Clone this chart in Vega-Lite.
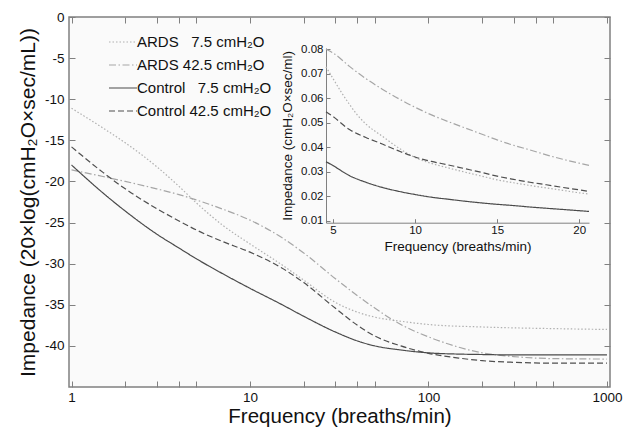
{
  "$schema": "https://vega.github.io/schema/vega-lite/v6.json",
  "width": 541,
  "height": 370,
  "autosize": {"type": "none"},
  "padding": {"left": 69, "top": 17, "right": 14, "bottom": 40},
  "background": "white",
  "config": {
    "view": {"fill": "#fafafa", "stroke": "#808080", "strokeWidth": 1.5},
    "font": "Liberation Sans",
    "axis": {"labelFont": "Liberation Sans", "titleFont": "Liberation Sans", "labelColor": "#111111", "titleColor": "#111111", "titleFontWeight": "normal", "grid": false, "tickColor": "#808080", "domainColor": "#808080", "labelFlush": false}
  },
  "datasets": {
    "main": [
      {"series": "ARDS\u00a0\u00a0\u00a07.5 cmH\u2082O", "f": 1, "v": -11.1},
      {"series": "ARDS\u00a0\u00a0\u00a07.5 cmH\u2082O", "f": 1.5, "v": -13.5},
      {"series": "ARDS\u00a0\u00a0\u00a07.5 cmH\u2082O", "f": 2, "v": -15.3},
      {"series": "ARDS\u00a0\u00a0\u00a07.5 cmH\u2082O", "f": 3, "v": -18.2},
      {"series": "ARDS\u00a0\u00a0\u00a07.5 cmH\u2082O", "f": 4, "v": -20.6},
      {"series": "ARDS\u00a0\u00a0\u00a07.5 cmH\u2082O", "f": 5, "v": -22.6},
      {"series": "ARDS\u00a0\u00a0\u00a07.5 cmH\u2082O", "f": 7, "v": -25.3},
      {"series": "ARDS\u00a0\u00a0\u00a07.5 cmH\u2082O", "f": 10, "v": -27.6},
      {"series": "ARDS\u00a0\u00a0\u00a07.5 cmH\u2082O", "f": 15, "v": -30.1},
      {"series": "ARDS\u00a0\u00a0\u00a07.5 cmH\u2082O", "f": 20, "v": -32.0},
      {"series": "ARDS\u00a0\u00a0\u00a07.5 cmH\u2082O", "f": 30, "v": -34.7},
      {"series": "ARDS\u00a0\u00a0\u00a07.5 cmH\u2082O", "f": 40, "v": -35.9},
      {"series": "ARDS\u00a0\u00a0\u00a07.5 cmH\u2082O", "f": 50, "v": -36.5},
      {"series": "ARDS\u00a0\u00a0\u00a07.5 cmH\u2082O", "f": 70, "v": -37.0},
      {"series": "ARDS\u00a0\u00a0\u00a07.5 cmH\u2082O", "f": 100, "v": -37.4},
      {"series": "ARDS\u00a0\u00a0\u00a07.5 cmH\u2082O", "f": 200, "v": -37.7},
      {"series": "ARDS\u00a0\u00a0\u00a07.5 cmH\u2082O", "f": 500, "v": -37.9},
      {"series": "ARDS\u00a0\u00a0\u00a07.5 cmH\u2082O", "f": 1000, "v": -38.0},

      {"series": "ARDS 42.5 cmH\u2082O", "f": 1, "v": -18.6},
      {"series": "ARDS 42.5 cmH\u2082O", "f": 1.5, "v": -19.4},
      {"series": "ARDS 42.5 cmH\u2082O", "f": 2, "v": -20.0},
      {"series": "ARDS 42.5 cmH\u2082O", "f": 3, "v": -20.9},
      {"series": "ARDS 42.5 cmH\u2082O", "f": 4, "v": -21.6},
      {"series": "ARDS 42.5 cmH\u2082O", "f": 5, "v": -22.25},
      {"series": "ARDS 42.5 cmH\u2082O", "f": 7, "v": -23.35},
      {"series": "ARDS 42.5 cmH\u2082O", "f": 10, "v": -24.7},
      {"series": "ARDS 42.5 cmH\u2082O", "f": 15, "v": -26.8},
      {"series": "ARDS 42.5 cmH\u2082O", "f": 20, "v": -28.7},
      {"series": "ARDS 42.5 cmH\u2082O", "f": 30, "v": -31.8},
      {"series": "ARDS 42.5 cmH\u2082O", "f": 40, "v": -33.9},
      {"series": "ARDS 42.5 cmH\u2082O", "f": 50, "v": -35.4},
      {"series": "ARDS 42.5 cmH\u2082O", "f": 70, "v": -37.4},
      {"series": "ARDS 42.5 cmH\u2082O", "f": 100, "v": -38.9},
      {"series": "ARDS 42.5 cmH\u2082O", "f": 150, "v": -40.2},
      {"series": "ARDS 42.5 cmH\u2082O", "f": 200, "v": -40.85},
      {"series": "ARDS 42.5 cmH\u2082O", "f": 300, "v": -41.3},
      {"series": "ARDS 42.5 cmH\u2082O", "f": 500, "v": -41.55},
      {"series": "ARDS 42.5 cmH\u2082O", "f": 1000, "v": -41.6},

      {"series": "Control\u00a0\u00a0\u00a07.5 cmH\u2082O", "f": 1, "v": -18.0},
      {"series": "Control\u00a0\u00a0\u00a07.5 cmH\u2082O", "f": 1.5, "v": -21.4},
      {"series": "Control\u00a0\u00a0\u00a07.5 cmH\u2082O", "f": 2, "v": -23.6},
      {"series": "Control\u00a0\u00a0\u00a07.5 cmH\u2082O", "f": 3, "v": -26.4},
      {"series": "Control\u00a0\u00a0\u00a07.5 cmH\u2082O", "f": 4, "v": -28.1},
      {"series": "Control\u00a0\u00a0\u00a07.5 cmH\u2082O", "f": 5, "v": -29.4},
      {"series": "Control\u00a0\u00a0\u00a07.5 cmH\u2082O", "f": 7, "v": -31.2},
      {"series": "Control\u00a0\u00a0\u00a07.5 cmH\u2082O", "f": 10, "v": -33.0},
      {"series": "Control\u00a0\u00a0\u00a07.5 cmH\u2082O", "f": 15, "v": -34.95},
      {"series": "Control\u00a0\u00a0\u00a07.5 cmH\u2082O", "f": 20, "v": -36.4},
      {"series": "Control\u00a0\u00a0\u00a07.5 cmH\u2082O", "f": 30, "v": -38.3},
      {"series": "Control\u00a0\u00a0\u00a07.5 cmH\u2082O", "f": 40, "v": -39.4},
      {"series": "Control\u00a0\u00a0\u00a07.5 cmH\u2082O", "f": 50, "v": -40.0},
      {"series": "Control\u00a0\u00a0\u00a07.5 cmH\u2082O", "f": 70, "v": -40.5},
      {"series": "Control\u00a0\u00a0\u00a07.5 cmH\u2082O", "f": 100, "v": -40.85},
      {"series": "Control\u00a0\u00a0\u00a07.5 cmH\u2082O", "f": 150, "v": -41.0},
      {"series": "Control\u00a0\u00a0\u00a07.5 cmH\u2082O", "f": 200, "v": -41.05},
      {"series": "Control\u00a0\u00a0\u00a07.5 cmH\u2082O", "f": 300, "v": -41.1},
      {"series": "Control\u00a0\u00a0\u00a07.5 cmH\u2082O", "f": 1000, "v": -41.1},

      {"series": "Control 42.5 cmH\u2082O", "f": 1, "v": -15.8},
      {"series": "Control 42.5 cmH\u2082O", "f": 1.5, "v": -18.9},
      {"series": "Control 42.5 cmH\u2082O", "f": 2, "v": -20.9},
      {"series": "Control 42.5 cmH\u2082O", "f": 3, "v": -23.3},
      {"series": "Control 42.5 cmH\u2082O", "f": 4, "v": -24.8},
      {"series": "Control 42.5 cmH\u2082O", "f": 5, "v": -25.9},
      {"series": "Control 42.5 cmH\u2082O", "f": 7, "v": -27.3},
      {"series": "Control 42.5 cmH\u2082O", "f": 10, "v": -28.6},
      {"series": "Control 42.5 cmH\u2082O", "f": 15, "v": -30.5},
      {"series": "Control 42.5 cmH\u2082O", "f": 20, "v": -32.3},
      {"series": "Control 42.5 cmH\u2082O", "f": 30, "v": -35.4},
      {"series": "Control 42.5 cmH\u2082O", "f": 40, "v": -37.5},
      {"series": "Control 42.5 cmH\u2082O", "f": 50, "v": -38.8},
      {"series": "Control 42.5 cmH\u2082O", "f": 70, "v": -40.0},
      {"series": "Control 42.5 cmH\u2082O", "f": 100, "v": -40.9},
      {"series": "Control 42.5 cmH\u2082O", "f": 150, "v": -41.5},
      {"series": "Control 42.5 cmH\u2082O", "f": 200, "v": -41.8},
      {"series": "Control 42.5 cmH\u2082O", "f": 300, "v": -42.0},
      {"series": "Control 42.5 cmH\u2082O", "f": 500, "v": -42.1},
      {"series": "Control 42.5 cmH\u2082O", "f": 1000, "v": -42.1}
    ],
    "inset": [
      {"series": "ARDS\u00a0\u00a0\u00a07.5 cmH\u2082O", "f": 4.57, "v": 0.0728},
      {"series": "ARDS\u00a0\u00a0\u00a07.5 cmH\u2082O", "f": 5, "v": 0.0680},
      {"series": "ARDS\u00a0\u00a0\u00a07.5 cmH\u2082O", "f": 5.5, "v": 0.0625},
      {"series": "ARDS\u00a0\u00a0\u00a07.5 cmH\u2082O", "f": 6, "v": 0.0575},
      {"series": "ARDS\u00a0\u00a0\u00a07.5 cmH\u2082O", "f": 6.5, "v": 0.0530},
      {"series": "ARDS\u00a0\u00a0\u00a07.5 cmH\u2082O", "f": 7, "v": 0.0495},
      {"series": "ARDS\u00a0\u00a0\u00a07.5 cmH\u2082O", "f": 8, "v": 0.0445},
      {"series": "ARDS\u00a0\u00a0\u00a07.5 cmH\u2082O", "f": 9, "v": 0.0397},
      {"series": "ARDS\u00a0\u00a0\u00a07.5 cmH\u2082O", "f": 10, "v": 0.0358},
      {"series": "ARDS\u00a0\u00a0\u00a07.5 cmH\u2082O", "f": 11, "v": 0.0334},
      {"series": "ARDS\u00a0\u00a0\u00a07.5 cmH\u2082O", "f": 12, "v": 0.0316},
      {"series": "ARDS\u00a0\u00a0\u00a07.5 cmH\u2082O", "f": 13, "v": 0.0299},
      {"series": "ARDS\u00a0\u00a0\u00a07.5 cmH\u2082O", "f": 14, "v": 0.0283},
      {"series": "ARDS\u00a0\u00a0\u00a07.5 cmH\u2082O", "f": 15, "v": 0.0267},
      {"series": "ARDS\u00a0\u00a0\u00a07.5 cmH\u2082O", "f": 16, "v": 0.0255},
      {"series": "ARDS\u00a0\u00a0\u00a07.5 cmH\u2082O", "f": 17, "v": 0.0244},
      {"series": "ARDS\u00a0\u00a0\u00a07.5 cmH\u2082O", "f": 18, "v": 0.0234},
      {"series": "ARDS\u00a0\u00a0\u00a07.5 cmH\u2082O", "f": 19, "v": 0.0224},
      {"series": "ARDS\u00a0\u00a0\u00a07.5 cmH\u2082O", "f": 20, "v": 0.0214},
      {"series": "ARDS\u00a0\u00a0\u00a07.5 cmH\u2082O", "f": 20.6, "v": 0.0209},

      {"series": "ARDS 42.5 cmH\u2082O", "f": 4.57, "v": 0.0800},
      {"series": "ARDS 42.5 cmH\u2082O", "f": 5, "v": 0.0785},
      {"series": "ARDS 42.5 cmH\u2082O", "f": 6, "v": 0.0730},
      {"series": "ARDS 42.5 cmH\u2082O", "f": 7, "v": 0.0680},
      {"series": "ARDS 42.5 cmH\u2082O", "f": 8, "v": 0.0637},
      {"series": "ARDS 42.5 cmH\u2082O", "f": 9, "v": 0.0598},
      {"series": "ARDS 42.5 cmH\u2082O", "f": 10, "v": 0.0563},
      {"series": "ARDS 42.5 cmH\u2082O", "f": 11, "v": 0.0532},
      {"series": "ARDS 42.5 cmH\u2082O", "f": 12, "v": 0.0505},
      {"series": "ARDS 42.5 cmH\u2082O", "f": 13, "v": 0.0480},
      {"series": "ARDS 42.5 cmH\u2082O", "f": 14, "v": 0.0455},
      {"series": "ARDS 42.5 cmH\u2082O", "f": 15, "v": 0.0430},
      {"series": "ARDS 42.5 cmH\u2082O", "f": 16, "v": 0.0408},
      {"series": "ARDS 42.5 cmH\u2082O", "f": 17, "v": 0.0389},
      {"series": "ARDS 42.5 cmH\u2082O", "f": 18, "v": 0.0369},
      {"series": "ARDS 42.5 cmH\u2082O", "f": 19, "v": 0.0351},
      {"series": "ARDS 42.5 cmH\u2082O", "f": 20, "v": 0.0335},
      {"series": "ARDS 42.5 cmH\u2082O", "f": 20.6, "v": 0.0326},

      {"series": "Control\u00a0\u00a0\u00a07.5 cmH\u2082O", "f": 4.57, "v": 0.0341},
      {"series": "Control\u00a0\u00a0\u00a07.5 cmH\u2082O", "f": 5, "v": 0.0325},
      {"series": "Control\u00a0\u00a0\u00a07.5 cmH\u2082O", "f": 6, "v": 0.0284},
      {"series": "Control\u00a0\u00a0\u00a07.5 cmH\u2082O", "f": 7, "v": 0.0257},
      {"series": "Control\u00a0\u00a0\u00a07.5 cmH\u2082O", "f": 8, "v": 0.0236},
      {"series": "Control\u00a0\u00a0\u00a07.5 cmH\u2082O", "f": 9, "v": 0.0220},
      {"series": "Control\u00a0\u00a0\u00a07.5 cmH\u2082O", "f": 10, "v": 0.0207},
      {"series": "Control\u00a0\u00a0\u00a07.5 cmH\u2082O", "f": 11, "v": 0.0196},
      {"series": "Control\u00a0\u00a0\u00a07.5 cmH\u2082O", "f": 12, "v": 0.0188},
      {"series": "Control\u00a0\u00a0\u00a07.5 cmH\u2082O", "f": 13, "v": 0.0180},
      {"series": "Control\u00a0\u00a0\u00a07.5 cmH\u2082O", "f": 14, "v": 0.0173},
      {"series": "Control\u00a0\u00a0\u00a07.5 cmH\u2082O", "f": 15, "v": 0.0167},
      {"series": "Control\u00a0\u00a0\u00a07.5 cmH\u2082O", "f": 16, "v": 0.0162},
      {"series": "Control\u00a0\u00a0\u00a07.5 cmH\u2082O", "f": 17, "v": 0.0156},
      {"series": "Control\u00a0\u00a0\u00a07.5 cmH\u2082O", "f": 18, "v": 0.0151},
      {"series": "Control\u00a0\u00a0\u00a07.5 cmH\u2082O", "f": 19, "v": 0.0146},
      {"series": "Control\u00a0\u00a0\u00a07.5 cmH\u2082O", "f": 20, "v": 0.0141},
      {"series": "Control\u00a0\u00a0\u00a07.5 cmH\u2082O", "f": 20.6, "v": 0.0138},

      {"series": "Control 42.5 cmH\u2082O", "f": 4.57, "v": 0.0545},
      {"series": "Control 42.5 cmH\u2082O", "f": 5, "v": 0.0525},
      {"series": "Control 42.5 cmH\u2082O", "f": 6, "v": 0.0472},
      {"series": "Control 42.5 cmH\u2082O", "f": 7, "v": 0.0440},
      {"series": "Control 42.5 cmH\u2082O", "f": 8, "v": 0.0413},
      {"series": "Control 42.5 cmH\u2082O", "f": 9, "v": 0.0385},
      {"series": "Control 42.5 cmH\u2082O", "f": 10, "v": 0.0360},
      {"series": "Control 42.5 cmH\u2082O", "f": 11, "v": 0.0342},
      {"series": "Control 42.5 cmH\u2082O", "f": 12, "v": 0.0328},
      {"series": "Control 42.5 cmH\u2082O", "f": 13, "v": 0.0313},
      {"series": "Control 42.5 cmH\u2082O", "f": 14, "v": 0.0298},
      {"series": "Control 42.5 cmH\u2082O", "f": 15, "v": 0.0282},
      {"series": "Control 42.5 cmH\u2082O", "f": 16, "v": 0.0269},
      {"series": "Control 42.5 cmH\u2082O", "f": 17, "v": 0.0257},
      {"series": "Control 42.5 cmH\u2082O", "f": 18, "v": 0.0247},
      {"series": "Control 42.5 cmH\u2082O", "f": 19, "v": 0.0236},
      {"series": "Control 42.5 cmH\u2082O", "f": 20, "v": 0.0226},
      {"series": "Control 42.5 cmH\u2082O", "f": 20.6, "v": 0.0219}
    ]
  },
  "layer": [
    {
      "data": {"name": "main"},
      "mark": {"type": "line", "strokeWidth": 1.2, "clip": true, "interpolate": "monotone"},
      "encoding": {
        "x": {
          "field": "f", "type": "quantitative",
          "scale": {"type": "log", "domain": [0.968, 1040], "nice": false},
          "axis": {
            "orient": "bottom",
            "values": [1,2,3,4,5,10,20,30,40,50,100,200,300,400,500,1000],
            "labelExpr": "(datum.value == 1 || datum.value == 10 || datum.value == 100 || datum.value == 1000) ? format(datum.value, 'd') : ''",
            "tickSize": -6, "labelPadding": 9, "domain": false,
            "labelFontSize": 13.5, "title": "Frequency (breaths/min)", "titleFontSize": 20.5, "titlePadding": 3
          }
        },
        "y": {
          "field": "v", "type": "quantitative",
          "scale": {"domain": [-45, 0], "nice": false, "zero": false},
          "axis": {
            "orient": "left",
            "values": [-40,-35,-30,-25,-20,-15,-10,-5,0],
            "labelExpr": "replace(format(datum.value, 'd'), '\u2212', '-')",
            "tickSize": -6, "labelPadding": 11, "domain": false,
            "labelFontSize": 13.5, "title": "Impedance (20\u00d7log(cmH\u2082O\u00d7sec/mL))", "titleFontSize": 21, "titlePadding": 6
          }
        },
        "color": {
          "field": "series", "type": "nominal",
          "scale": {"domain": ["ARDS\u00a0\u00a0\u00a07.5 cmH\u2082O", "ARDS 42.5 cmH\u2082O", "Control\u00a0\u00a0\u00a07.5 cmH\u2082O", "Control 42.5 cmH\u2082O"], "range": ["#b0b0b0", "#a6a6a6", "#4a4a4a", "#4f4f4f"]},
          "legend": {"orient": "none", "legendX": 43, "legendY": 14, "title": null, "labelFontSize": 15, "labelFont": "Liberation Sans", "labelColor": "#111111", "symbolType": "M-1.4,0H1.4", "symbolSize": 400, "symbolStrokeWidth": 1.2, "rowPadding": 4, "labelOffset": 3, "padding": 0}
        },
        "strokeDash": {
          "field": "series", "type": "nominal",
          "scale": {"domain": ["ARDS\u00a0\u00a0\u00a07.5 cmH\u2082O", "ARDS 42.5 cmH\u2082O", "Control\u00a0\u00a0\u00a07.5 cmH\u2082O", "Control 42.5 cmH\u2082O"], "range": [[1.5, 2], [7, 2.5, 1.5, 2.5], [1, 0], [6, 3]]},
          "legend": {"orient": "none", "legendX": 43, "legendY": 14, "title": null, "labelFontSize": 15, "labelFont": "Liberation Sans", "labelColor": "#111111", "symbolType": "M-1.4,0H1.4", "symbolSize": 400, "symbolStrokeWidth": 1.2, "rowPadding": 4, "labelOffset": 3, "padding": 0}
        }
      }
    },
    {
      "data": {"name": "main"},
      "mark": {"type": "point", "opacity": 0},
      "encoding": {
        "x": {
          "field": "f", "type": "quantitative",
          "scale": {"type": "log", "domain": [0.968, 1040], "nice": false},
          "axis": {
            "orient": "top",
            "values": [1,2,3,4,5,10,20,30,40,50,100,200,300,400,500,1000],
            "labels": false, "tickSize": -6, "domain": false, "title": null
          }
        },
        "y": {
          "field": "v", "type": "quantitative",
          "scale": {"domain": [-45, 0], "nice": false, "zero": false},
          "axis": {
            "orient": "right",
            "values": [-40,-35,-30,-25,-20,-15,-10,-5,0],
            "labels": false, "tickSize": -6, "domain": false, "title": null
          }
        }
      }
    },
    {
      "data": {"name": "inset"},
      "mark": {"type": "line", "strokeWidth": 1.2, "interpolate": "monotone"},
      "encoding": {
        "x": {
          "field": "f", "type": "quantitative",
          "scale": {"domain": [4.57, 20.6], "range": [257, 520], "nice": false, "zero": false},
          "axis": {
            "orient": "bottom", "offset": -164.3,
            "values": [5, 10, 15, 20],
            "tickSize": -4, "labelPadding": 6, "domain": true,
            "labelFontSize": 11.5, "title": "Frequency (breaths/min)", "titleFontSize": 13.5, "titlePadding": 3
          }
        },
        "y": {
          "field": "v", "type": "quantitative",
          "scale": {"domain": [0.0092, 0.0805], "range": [205.7, 31], "nice": false, "zero": false},
          "axis": {
            "orient": "left", "offset": -257,
            "values": [0.01, 0.02, 0.03, 0.04, 0.05, 0.06, 0.07, 0.08], "format": ".2f",
            "tickSize": -4, "labelPadding": 7, "domain": true,
            "labelFontSize": 11.5, "title": "Impedance (cmH\u2082O\u00d7sec/ml)", "titleFontSize": 13.5, "titlePadding": 6
          }
        },
        "color": {"field": "series", "type": "nominal"},
        "strokeDash": {"field": "series", "type": "nominal"}
      }
    }
  ],
  "resolve": {"scale": {"x": "independent", "y": "independent"}}
}
